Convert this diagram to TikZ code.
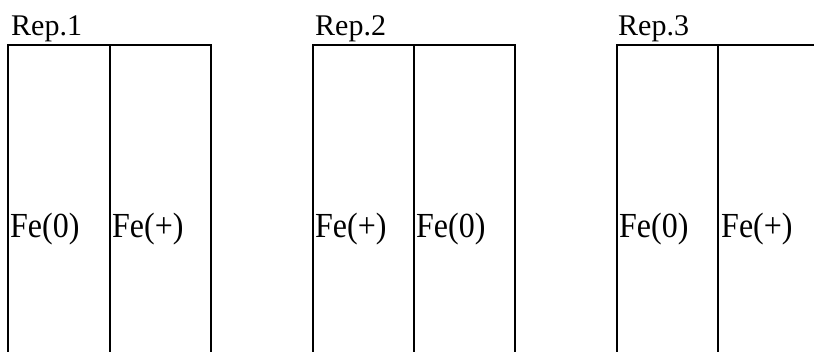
\documentclass[tikz,border=0pt]{standalone}
\usepackage{fontspec}
\setmainfont{Liberation Serif}
\begin{document}
\begin{tikzpicture}[x=1pt,y=-1pt,
  lane/.style={line width=1.6pt, line cap=rect},
  rep/.style={anchor=base west, inner sep=0pt, font=\fontsize{30}{30}\selectfont},
  fe/.style={anchor=base west, inner sep=0pt, yscale=1.1, font=\fontsize{32}{32}\selectfont}]
\useasboundingbox (0,0) rectangle (814,352);
% group 1
\draw[lane] (8,360) -- (8,45) -- (211,45) -- (211,360);
\draw[lane] (110,45) -- (110,360);
\node[rep] (r1) at (11,36) {Rep.1};
\node[fe] (a1) at (10,238) {Fe(0)};
\node[fe] (b1) at (112,238) {Fe(+)};
% group 2
\draw[lane] (313,360) -- (313,45) -- (515,45) -- (515,360);
\draw[lane] (414,45) -- (414,360);
\node[rep] (r2) at (315,36) {Rep.2};
\node[fe] (a2) at (315,238) {Fe(+)};
\node[fe] (b2) at (416,238) {Fe(0)};
% group 3
\draw[lane] (617,360) -- (617,45) -- (820,45);
\draw[lane] (718,45) -- (718,360);
\node[rep] (r3) at (618,36) {Rep.3};
\node[fe] (a3) at (619,238) {Fe(0)};
\node[fe] (b3) at (721,238) {Fe(+)};
\end{tikzpicture}
\end{document}
